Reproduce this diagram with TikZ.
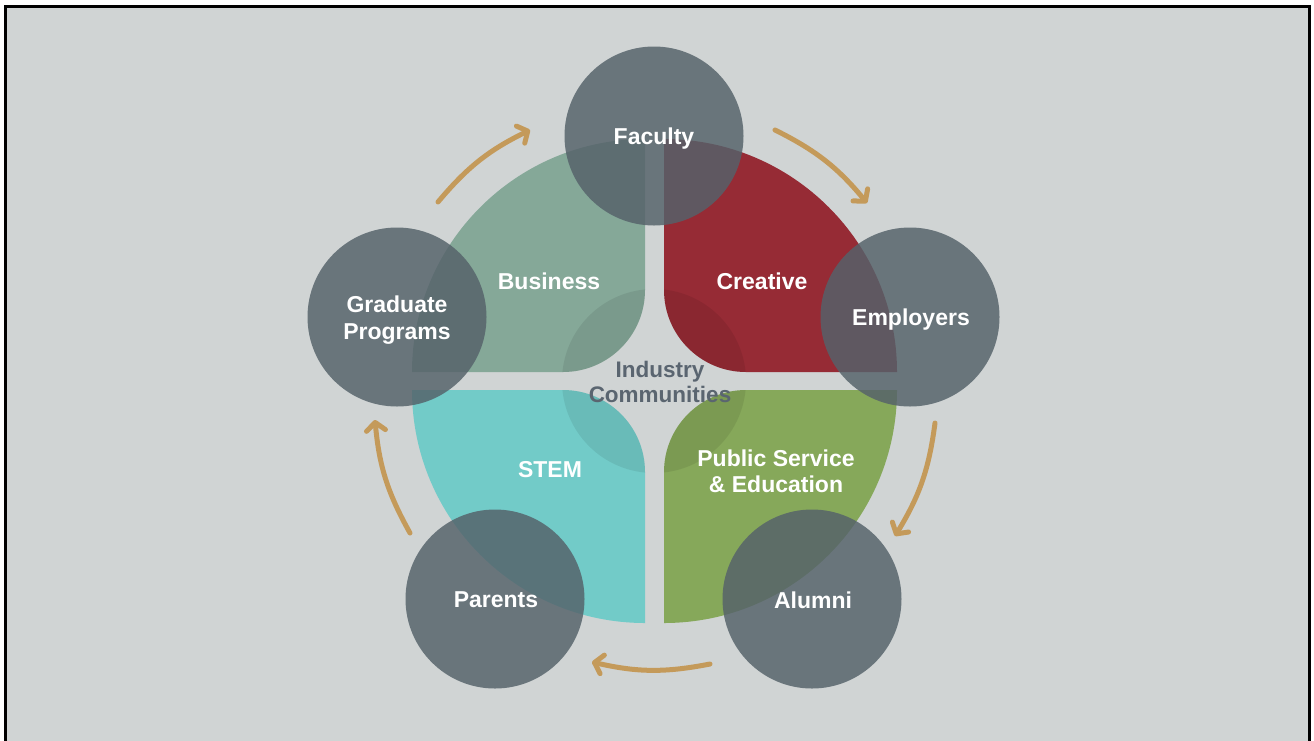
\documentclass[tikz,border=0pt]{standalone}
\usepackage{fontspec}
\setmainfont{Liberation Sans}
\usetikzlibrary{arrows.meta}
\definecolor{bg}{HTML}{D0D4D4}
\definecolor{bus}{HTML}{85A898}
\definecolor{cre}{HTML}{962B35}
\definecolor{stemc}{HTML}{72CBC8}
\definecolor{pub}{HTML}{86A85A}
\definecolor{nodegray}{HTML}{55626A}
\definecolor{gold}{HTML}{C49A5A}
\definecolor{inktext}{HTML}{5A6570}
\tikzset{
  actor/.style={circle, minimum size=179pt, inner sep=0pt, fill=nodegray, fill opacity=0.83, text opacity=1},
  actorlabel/.style={text=white, font=\fontsize{23}{27}\selectfont\bfseries, align=center, inner sep=0pt},
  qlabel/.style={text=white, font=\fontsize{23}{26}\selectfont\bfseries, align=center, inner sep=0pt},
  flow/.style={draw=gold, line width=5pt, line cap=round, -{Straight Barb[length=8pt,width=19pt,round]}},
}
\def\busq{(412,372) arc[start angle=180,end angle=270,radius=233] -- (645,290) arc[start angle=0,end angle=90,radius=82] -- cycle}
\def\creq{(664,139) arc[start angle=270,end angle=360,radius=233] -- (746,372) arc[start angle=90,end angle=180,radius=82] -- cycle}
\def\stemq{(412,390) -- (563,390) arc[start angle=270,end angle=360,radius=82] -- (645,623) arc[start angle=90,end angle=180,radius=233] -- cycle}
\def\pubq{(746,390) -- (897,390) arc[start angle=0,end angle=90,radius=233] -- (664,472) arc[start angle=180,end angle=270,radius=82] -- cycle}
\begin{document}
\begin{tikzpicture}[x=1pt,y=-1pt]
\useasboundingbox (0,0) rectangle (1314,740);
\clip (0,0) rectangle (1314,740);
\fill[white] (0,0) rectangle (1314,740);
\draw[line width=3pt, fill=bg] (5.3,6.7) rectangle (1309,770);
% quadrants
\fill[bus] \busq;
\fill[cre] \creq;
\fill[stemc] \stemq;
\fill[pub] \pubq;
% central overlay
\begin{scope}
  \clip \busq \creq \stemq \pubq;
  \fill[black, opacity=0.08] (654,381) circle[radius=92];
\end{scope}
% quadrant labels
\node[qlabel] (lbus) at (549,281) {Business};
\node[qlabel] (lcre) at (762,281) {Creative};
\node[qlabel] (lstem) at (550,470) {STEM};
\node[qlabel] (lpub) at (776,471) {Public Service\\\& Education};
% actors
\node[actor] (fac) at (654,136) {};
\node[actor] (emp) at (910,317) {};
\node[actor] (alu) at (812,599) {};
\node[actor] (par) at (495,599) {};
\node[actor] (gra) at (397,317) {};
\node[actorlabel] (tfac) at (654,139) {Faculty};
\node[actorlabel] (temp) at (911,319.5) {Employers};
\node[actorlabel] (talu) at (813,600) {Alumni};
\node[actorlabel] (tpar) at (496,600) {Parents};
\node[actorlabel] (tgra) at (397,320) {Graduate\\Programs};
% centre label
\node[text=inktext, font=\fontsize{22.5}{25}\selectfont\bfseries, align=center, inner sep=0pt] (ind) at (660,382) {Industry\\Communities};
% flow arrows
\coordinate (a1s) at (438,202); \coordinate (a1e) at (530,130);
\coordinate (a2s) at (775,130); \coordinate (a2e) at (867,203);
\coordinate (a3s) at (935,423); \coordinate (a3e) at (895,536);
\coordinate (a4s) at (710,664); \coordinate (a4e) at (592,662);
\coordinate (a5s) at (410,533); \coordinate (a5e) at (375,420);
\draw[flow] (a1s) to[bend left=12] (a1e);
\draw[flow] (a2s) to[bend left=12] (a2e);
\draw[flow] (a3s) to[bend left=12] (a3e);
\draw[flow] (a4s) to[bend left=12] (a4e);
\draw[flow] (a5s) to[bend left=12] (a5e);
\end{tikzpicture}
\end{document}
